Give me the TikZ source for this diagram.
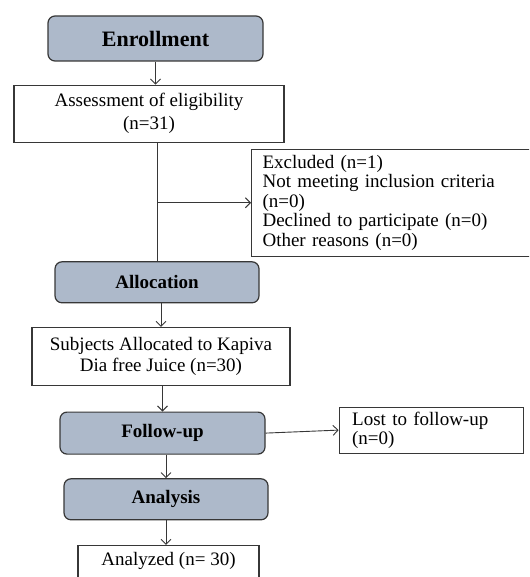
\documentclass[tikz,border=0pt]{standalone}
\usepackage{fontspec}
\setmainfont{Liberation Serif}
\usepackage{tikz}
\usetikzlibrary{arrows.meta,positioning}
\definecolor{phasefill}{RGB}{173,185,202}
\definecolor{edgegray}{RGB}{55,55,55}

\begin{document}
\begin{tikzpicture}[  %sizes measured in pt from the flow chart
		phase/.style={rectangle, rounded corners=7pt, draw=edgegray, fill=phasefill, line width=1.2pt, inner sep=0pt, font=\fontsize{19pt}{21pt}\selectfont\bfseries},
		box/.style={rectangle, draw=edgegray, line width=1.1pt, inner sep=0pt, align=center, font=\fontsize{19pt}{21pt}\selectfont},
		note/.style={rectangle, draw=edgegray, line width=1.1pt, inner xsep=11pt, inner ysep=0pt, align=left, font=\fontsize{19pt}{19.5pt}\selectfont},
		flow/.style={draw=edgegray, line width=0.9pt, -{Straight Barb[length=5pt,width=10pt]}}
	]
		\useasboundingbox (0,0) rectangle (529pt,-577pt);
		\clip (0,0) rectangle (529pt,-577pt);

		\node[phase, minimum width=215pt, minimum height=45pt, font=\fontsize{22pt}{24pt}\selectfont\bfseries] (enroll) at (155.5pt,-38.5pt) {Enrollment};
		\node[box, below=23pt of enroll, xshift=-6.5pt, minimum width=270pt, minimum height=57pt, font=\fontsize{19pt}{23pt}\selectfont] (assess) {Assessment of eligibility\\(n=31)};
		\node[note, below right=6pt and 102pt of assess.south, minimum height=107pt, text width=272pt] (excl) {Excluded (n=1)\\Not meeting inclusion criteria\\(n=0)\\Declined to participate (n=0)\\Other reasons (n=0)};
		\node[phase, below=118.5pt of assess, xshift=8pt, minimum width=204pt, minimum height=41pt] (alloc) {Allocation};
		\node[box, below=23.5pt of alloc, xshift=4pt, minimum width=258pt, minimum height=58pt] (subj) {Subjects Allocated to Kapiva\\Dia free Juice (n=30)};
		\node[phase, below=25.5pt of subj, xshift=1.5pt, minimum width=205pt, minimum height=42pt] (follow) {Follow-up};
		\node[box, right=73pt of follow, yshift=3pt, minimum height=46pt, align=left, inner xsep=13pt, text width=158pt, font=\fontsize{19pt}{19pt}\selectfont] (lost) {Lost to follow-up\\(n=0)};
		\node[phase, below=23.5pt of follow, xshift=3.5pt, minimum width=204pt, minimum height=41pt] (analysis) {Analysis};
		\node[box, below=24.5pt of analysis, xshift=2.5pt, minimum width=181pt, minimum height=32pt] (analyzed) {Analyzed (n= 30)};

		\draw[flow] (enroll.south) -- (enroll.south |- assess.north);
		\draw[edgegray, line width=0.9pt] (assess.south -| alloc.north) -- (alloc.north);
		\draw[flow] (excl.west -| alloc.north) -- (excl.west);
		\draw[flow] (subj.north |- alloc.south) -- (subj.north);
		\draw[flow] (follow.north |- subj.south) -- (follow.north);
		\draw[flow] (follow.east) -- (lost.west);
		\draw[flow] (analysis.north |- follow.south) -- (analysis.north);
		\draw[flow] (analysis.south) -- (analysis.south |- analyzed.north);
	\end{tikzpicture}
\end{document}
